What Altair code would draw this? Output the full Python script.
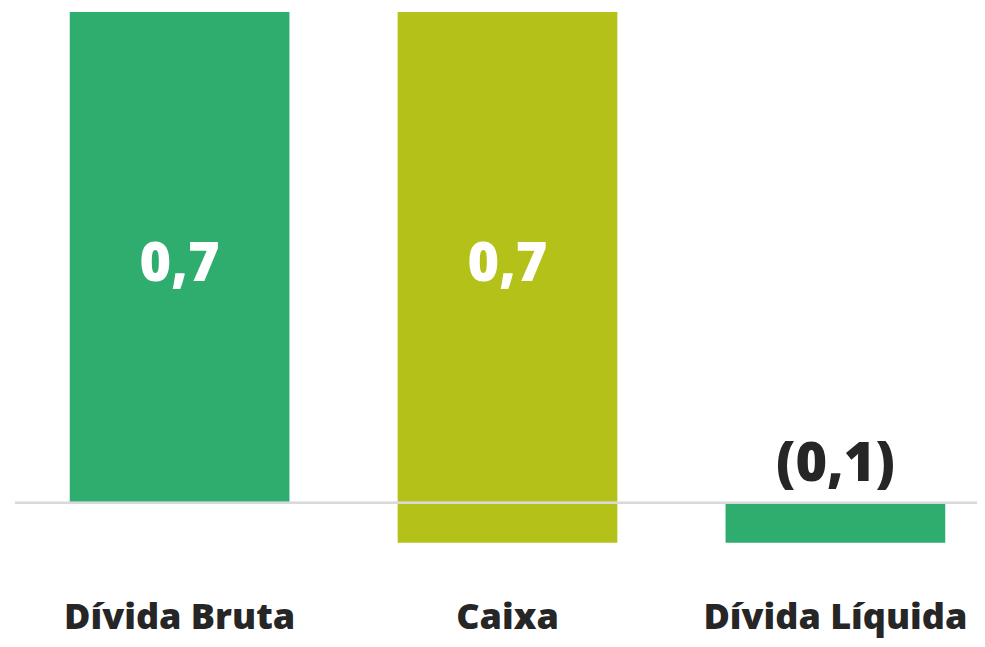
import altair as alt
import pandas as pd

categories = ["Dívida Bruta", "Caixa", "Dívida Líquida"]
bar_start = [0.0, 0.70, 0.0]
bar_end = [0.70, -0.057, -0.057]
value_labels = ["0,7", "0,7", "(0,1)"]
label_pos = [0.339, 0.339, 0.0545]
label_colors = ["#ffffff", "#ffffff", "#262626"]
bar_colors = ["#2EAD6F", "#B4C118", "#2EAD6F"]

df = pd.DataFrame({
    "cat": categories,
    "start": bar_start,
    "end": bar_end,
    "label": value_labels,
    "lpos": label_pos,
    "lcol": label_colors,
})

FONT = "Open Sans"
W, H = 962, 596

x = alt.X("cat:N", sort=categories, title=None,
          scale=alt.Scale(domain=categories, range=[0, 985], paddingInner=0.33, paddingOuter=0.167),
          axis=alt.Axis(labelAngle=0, ticks=False, domain=False, labelFont=FONT, labelFontSize=36,
                        labelFontWeight=800, labelColor="#262626", labelPadding=20, labelLimit=0,
                        labelBaseline="alphabetic", grid=False))
yscale = alt.Scale(domain=[-0.15, 0.7], nice=False, zero=False)

base = alt.Chart(df)

bars = base.mark_bar().encode(
    x=x,
    y=alt.Y("start:Q", scale=yscale, axis=None),
    y2="end:Q",
    color=alt.Color("cat:N", scale=alt.Scale(domain=categories, range=bar_colors), legend=None),
)

rule = base.mark_rule(color="#d9d9d9", strokeWidth=2).encode(
    y=alt.Y("zero:Q", scale=yscale, axis=None),
    x=alt.value(0), x2=alt.value(W),
).transform_calculate(zero="0")

texts = base.mark_text(font=FONT, fontSize=54, fontWeight=800, baseline="middle").encode(
    x=x,
    y=alt.Y("lpos:Q", scale=yscale, axis=None),
    text="label:N",
    color=alt.Color("lcol:N", scale=None),
)

chart = alt.layer(bars, rule, texts).properties(
    width=W, height=H,
    background="white",
    autosize=alt.AutoSizeParams(type="none"),
    padding={"left": 7, "top": 4, "right": 0, "bottom": 31},
).configure_view(strokeWidth=0, stroke=None)

chart.save("out.html", embed_options={"renderer": "svg", "actions": False})
